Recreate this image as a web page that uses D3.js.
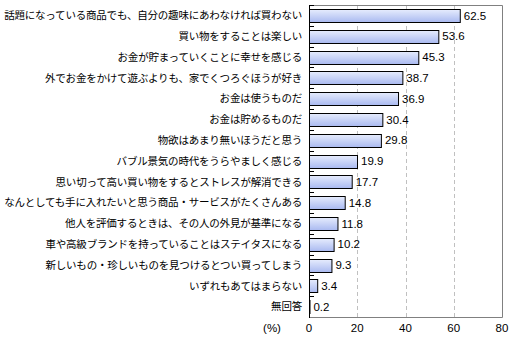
<!DOCTYPE html>
<html>
<head>
<meta charset="utf-8">
<script src="https://cdn.jsdelivr.net/npm/d3@7"></script>
<style>
  html, body { margin: 0; padding: 0; background: #fff; }
  svg { display: block; }
  .cat { font-family: "Noto Sans CJK JP", sans-serif; font-size: 10.5px; letter-spacing: -0.2px; fill: #000; }
  .val, .tick-label { font-family: "Liberation Sans", Arial, sans-serif; font-size: 11.5px; fill: #000; }
</style>
</head>
<body>
<svg id="chart" width="510" height="346"></svg>
<script>
// Survey items and shares (%)
const categories = [
  "話題になっている商品でも、自分の趣味にあわなければ買わない",
  "買い物をすることは楽しい",
  "お金が貯まっていくことに幸せを感じる",
  "外でお金をかけて遊ぶよりも、家でくつろぐほうが好き",
  "お金は使うものだ",
  "お金は貯めるものだ",
  "物欲はあまり無いほうだと思う",
  "バブル景気の時代をうらやましく感じる",
  "思い切って高い買い物をするとストレスが解消できる",
  "なんとしても手に入れたいと思う商品・サービスがたくさんある",
  "他人を評価するときは、その人の外見が基準になる",
  "車や高級ブランドを持っていることはステイタスになる",
  "新しいもの・珍しいものを見つけるとつい買ってしまう",
  "いずれもあてはまらない",
  "無回答"
];
const values = [62.5, 53.6, 45.3, 38.7, 36.9, 30.4, 29.8, 19.9, 17.7, 14.8, 11.8, 10.2, 9.3, 3.4, 0.2];
const tickValues = [0, 20, 40, 60, 80];
const unitLabel = "(%)";

const svg = d3.select("#chart");
const plot = { left: 309, right: 502, top: 5, bottom: 317 };

const x = d3.scaleLinear().domain([0, 80]).range([plot.left, plot.right]);
const y = d3.scaleBand().domain(categories).range([plot.top, plot.bottom]).paddingInner(0.38).paddingOuter(0.19);
const rows = d3.scaleBand().domain(categories).range([plot.top, plot.bottom]);

// bar fill gradient
const defs = svg.append("defs");
const grad = defs.append("linearGradient").attr("id", "barFill")
  .attr("x1", 0).attr("y1", 0).attr("x2", 0).attr("y2", 1);
grad.append("stop").attr("offset", "0%").attr("stop-color", "#e6ecfd");
grad.append("stop").attr("offset", "100%").attr("stop-color", "#a9b9f0");

// vertical dashed gridlines
svg.append("g").selectAll("line")
  .data(tickValues.filter(d => d > 0 && d < 80))
  .join("line")
  .attr("x1", d => Math.round(x(d)) + 0.5).attr("x2", d => Math.round(x(d)) + 0.5)
  .attr("y1", plot.top).attr("y2", plot.bottom)
  .attr("stroke", "#c0c0c0").attr("stroke-width", 1)
  .attr("stroke-dasharray", "4,3");

// plot frame (top, right, bottom)
svg.append("path")
  .attr("d", `M${plot.left},${plot.top + 0.5}H${plot.right + 0.5}V${plot.bottom + 0.5}H${plot.left}`)
  .attr("fill", "none").attr("stroke", "#808080").attr("stroke-width", 1);

// bars
svg.append("g").selectAll("rect")
  .data(values)
  .join("rect")
  .attr("x", x(0) + 0.5)
  .attr("y", (d, i) => Math.round(y(categories[i])) + 0.5)
  .attr("width", d => Math.max(0, x(d) - x(0)))
  .attr("height", Math.round(y.bandwidth()))
  .attr("fill", "url(#barFill)")
  .attr("stroke", "#000").attr("stroke-width", 1);

// value labels
svg.append("g").selectAll("text")
  .data(values)
  .join("text")
  .attr("class", "val")
  .attr("x", d => x(d) + 4)
  .attr("y", (d, i) => y(categories[i]) + y.bandwidth() / 2)
  .attr("dy", "0.36em")
  .text(d => d.toFixed(1));

// category axis with ticks at row boundaries
const yAxis = svg.append("g");
yAxis.append("line")
  .attr("x1", plot.left + 0.5).attr("x2", plot.left + 0.5)
  .attr("y1", plot.top).attr("y2", plot.bottom + 1)
  .attr("stroke", "#000");
yAxis.selectAll("line.tk")
  .data(categories)
  .join("line").attr("class", "tk")
  .attr("x1", plot.left).attr("x2", plot.left + 5)
  .attr("y1", d => Math.round(rows(d)) + 0.5).attr("y2", d => Math.round(rows(d)) + 0.5)
  .attr("stroke", "#000");
yAxis.selectAll("text")
  .data(categories)
  .join("text")
  .attr("class", "cat")
  .attr("x", plot.left - 7)
  .attr("y", d => rows(d) + rows.bandwidth() / 2)
  .attr("dy", "0.36em")
  .attr("text-anchor", "end")
  .text(d => d);

// value axis labels
svg.append("g").selectAll("text")
  .data(tickValues)
  .join("text")
  .attr("class", "tick-label")
  .attr("x", d => x(d))
  .attr("y", 332)
  .attr("text-anchor", "middle")
  .text(d => d);

svg.append("text")
  .attr("class", "tick-label")
  .attr("x", 272).attr("y", 332)
  .attr("text-anchor", "middle")
  .text(unitLabel);
</script>
</body>
</html>
